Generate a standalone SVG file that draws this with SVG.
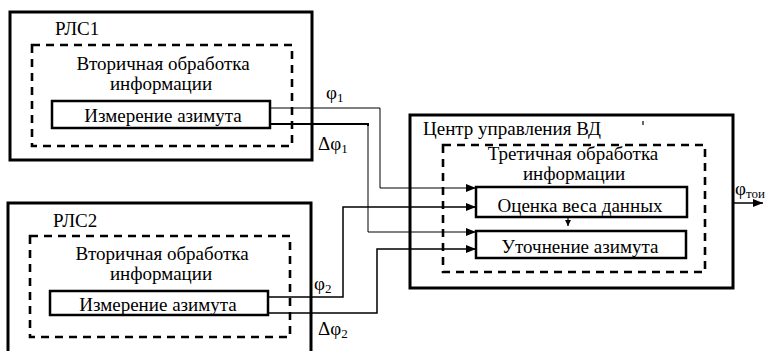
<svg xmlns="http://www.w3.org/2000/svg" width="765" height="351" viewBox="0 0 765 351">
  <style>
    .outer { fill: none; stroke: #000; stroke-width: 3; }
    .dash { fill: none; stroke: #000; stroke-width: 2.6; stroke-dasharray: 8 6; }
    .inner { fill: #fff; stroke: #000; stroke-width: 2.5; }
    .mid { text-anchor: middle; }
    .wire { fill: none; stroke: #000; }
  </style>
  <defs>
    <marker id="arr" viewBox="0 0 10 10" refX="10" refY="5" markerWidth="10" markerHeight="10" markerUnits="userSpaceOnUse" orient="auto">
      <path d="M0,1 L10,5 L0,9 Z" fill="#000"/>
    </marker>
    <marker id="arrSmall" viewBox="0 0 10 10" refX="10" refY="5" markerWidth="6" markerHeight="7" markerUnits="userSpaceOnUse" orient="auto">
      <path d="M0,0 L10,5 L0,10 Z" fill="#000"/>
    </marker>
  </defs>

  <!-- Radar station 1 -->
  <g id="rls1">
    <rect class="outer" x="10" y="12" width="302" height="148"/>
    <text x="55" y="35" font-family="Liberation Serif, serif" font-size="19">РЛС1</text>
    <rect class="dash" x="32" y="45" width="260" height="101"/>
    <text class="mid" x="163" y="70" font-family="Liberation Serif, serif" font-size="19">Вторичная обработка</text>
    <text class="mid" x="161" y="90" font-family="Liberation Serif, serif" font-size="19">информации</text>
    <rect class="inner" x="52" y="101" width="218" height="27"/>
    <text class="mid" x="163" y="122" font-family="Liberation Serif, serif" font-size="19">Измерение азимута</text>
  </g>

  <!-- Radar station 2 -->
  <g id="rls2">
    <rect class="outer" x="8" y="203" width="303" height="160"/>
    <text x="53" y="227" font-family="Liberation Serif, serif" font-size="19">РЛС2</text>
    <rect class="dash" x="30" y="236" width="260" height="101"/>
    <text class="mid" x="162" y="260" font-family="Liberation Serif, serif" font-size="19">Вторичная обработка</text>
    <text class="mid" x="161" y="280" font-family="Liberation Serif, serif" font-size="19">информации</text>
    <rect class="inner" x="50" y="291" width="218" height="24"/>
    <text class="mid" x="158" y="311" font-family="Liberation Serif, serif" font-size="19">Измерение азимута</text>
  </g>

  <!-- Control centre -->
  <g id="center">
    <rect class="outer" x="410" y="115" width="323" height="173"/>
    <text x="423" y="135" font-family="Liberation Serif, serif" font-size="19">Центр управления ВД</text>
    <line x1="643" y1="121" x2="643" y2="125" stroke="#000" stroke-width="1.2"/>
    <rect class="dash" x="443" y="145" width="262" height="127"/>
    <text class="mid" x="573" y="160" font-family="Liberation Serif, serif" font-size="19">Третичная обработка</text>
    <text class="mid" x="574" y="180" font-family="Liberation Serif, serif" font-size="19">информации</text>
  </g>
  <g id="weight">
    <rect class="inner" x="476" y="187" width="211" height="30"/>
    <text class="mid" x="580" y="212" font-family="Liberation Serif, serif" font-size="19">Оценка веса данных</text>
  </g>
  <g id="refine">
    <rect class="inner" x="476" y="231" width="210" height="27"/>
    <text class="mid" x="580" y="253" font-family="Liberation Serif, serif" font-size="19">Уточнение азимута</text>
  </g>

  <!-- Connectors -->
  <g id="connectors">
    <!-- RLS1 phi1 -->
    <polyline class="wire" stroke-width="1" stroke="#444" points="270,108 380,108 380,188 476,188" marker-end="url(#arr)"/>
    <!-- RLS1 delta phi1 -->
    <polyline class="wire" stroke-width="2" points="270,124 368,124 368,126"/>
    <polyline class="wire" stroke-width="1" points="368,124 368,232 476,232" marker-end="url(#arr)"/>
    <!-- RLS2 phi2 -->
    <polyline class="wire" stroke-width="1.5" points="268,297 343,297 343,207 476,207" marker-end="url(#arr)"/>
    <!-- RLS2 delta phi2 -->
    <polyline class="wire" stroke-width="1.5" points="268,313 377,313 377,249 476,249" marker-end="url(#arr)"/>
    <!-- weight estimate to refinement -->
    <line class="wire" stroke-width="1.2" x1="568" y1="217" x2="568" y2="226" marker-end="url(#arrSmall)"/>
    <!-- output -->
    <line class="wire" stroke-width="1.5" x1="733" y1="203" x2="763" y2="203" marker-end="url(#arr)"/>
  </g>

  <!-- Signal labels -->
  <g id="labels" font-family="Liberation Serif, serif" font-size="19">
    <text x="326" y="99">φ<tspan font-size="13" dy="3">1</tspan></text>
    <text x="318" y="150">Δφ<tspan font-size="13" dy="3">1</tspan></text>
    <text x="314" y="290">φ<tspan font-size="13" dy="3">2</tspan></text>
    <text x="318" y="335">Δφ<tspan font-size="13" dy="3">2</tspan></text>
    <text x="735" y="195">φ<tspan font-size="13" dy="3">тои</tspan></text>
  </g>
</svg>
